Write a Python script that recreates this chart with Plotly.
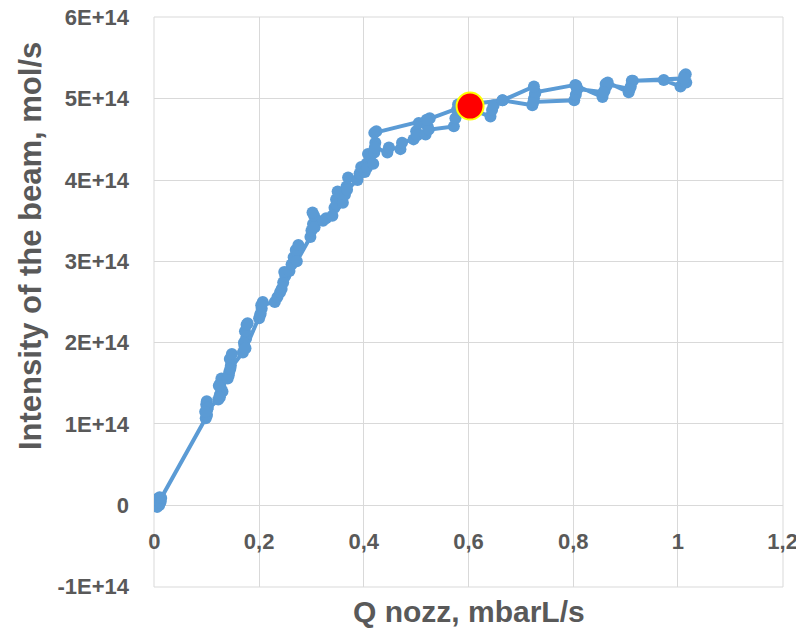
import plotly.graph_objects as go

# ---- data (intensity in units of 1E+14 mol/s) ----
q_nozz = [
    0.003, 0.006, 0.009, 0.012, 0.010, 0.005, 0.004, 0.011, 0.013,
    0.098, 0.100, 0.101, 0.099, 0.100, 0.102, 0.100, 0.097,
    0.122, 0.125, 0.127, 0.126, 0.128, 0.130, 0.125, 0.123,
    0.140, 0.143, 0.146, 0.144, 0.148, 0.142, 0.145,
    0.169, 0.172, 0.175, 0.173, 0.178, 0.171, 0.176, 0.174,
    0.200, 0.203, 0.205, 0.207, 0.202, 0.204,
    0.230, 0.235, 0.240,
    0.243, 0.246, 0.250, 0.248,
    0.258, 0.262, 0.266, 0.270, 0.275, 0.272,
    0.298, 0.300, 0.303, 0.305, 0.302, 0.306,
    0.322, 0.328,
    0.340, 0.344, 0.347, 0.350, 0.348,
    0.360, 0.364, 0.367, 0.370, 0.368,
    0.388, 0.392, 0.395,
    0.402, 0.405, 0.408, 0.406,
    0.418, 0.420, 0.422, 0.424, 0.421,
    0.445, 0.448,
    0.470, 0.473,
    0.495, 0.500, 0.505, 0.502,
    0.518, 0.522, 0.526, 0.524,
    0.572, 0.575, 0.578, 0.580,
    0.642, 0.645, 0.648,
    0.665,
    0.722, 0.725, 0.727, 0.724,
    0.802, 0.805, 0.808, 0.806,
    0.856, 0.860, 0.864, 0.866,
    0.906, 0.910, 0.914,
    0.973,
    1.005, 1.010, 1.012, 1.015, 1.016, 1.012,
    0.912, 0.908,
    0.862, 0.858,
    0.808, 0.804,
    0.728, 0.725,
    0.665, 0.600, 0.520, 0.420,
]
intensity = [
    0.02, 0.08, 0.00, 0.05, 0.10, -0.02, 0.06, 0.03, 0.09,
    1.07, 1.12, 1.18, 1.24, 1.28, 1.20, 1.10, 1.15,
    1.30, 1.36, 1.44, 1.50, 1.56, 1.40, 1.33, 1.47,
    1.56, 1.64, 1.72, 1.80, 1.86, 1.60, 1.68,
    1.88, 1.96, 2.05, 2.14, 2.24, 2.00, 2.22, 1.93,
    2.30, 2.36, 2.42, 2.50, 2.34, 2.46,
    2.50, 2.56, 2.62,
    2.66, 2.74, 2.82, 2.87,
    2.88, 2.96, 3.05, 3.14, 3.20, 3.00,
    3.30, 3.38, 3.46, 3.56, 3.60, 3.42,
    3.50, 3.53,
    3.56, 3.66, 3.76, 3.86, 3.70,
    3.72, 3.82, 3.92, 4.03, 3.88,
    4.00, 4.08, 4.16,
    4.10, 4.20, 4.32, 4.15,
    4.20, 4.34, 4.46, 4.60, 4.40,
    4.34, 4.40,
    4.38, 4.46,
    4.50, 4.60, 4.70, 4.55,
    4.56, 4.66, 4.76, 4.62,
    4.66, 4.76, 4.86, 4.93,
    4.78, 4.86, 4.92,
    4.98,
    4.92, 5.00, 5.06, 4.96,
    4.98, 5.05, 5.12, 5.16,
    5.02, 5.10, 5.16, 5.20,
    5.08, 5.15, 5.22,
    5.23,
    5.15, 5.22, 5.28, 5.30, 5.20, 5.25,
    5.22, 5.12,
    5.18, 5.08,
    5.12, 5.17,
    5.08, 5.15,
    4.98, 4.93, 4.74, 4.58,
]
highlight_q = [0.603]
highlight_intensity = [4.91]

y_tick_vals = [-1, 0, 1, 2, 3, 4, 5, 6]
y_tick_text = ["-1E+14", "0", "1E+14", "2E+14", "3E+14", "4E+14", "5E+14", "6E+14"]
x_tick_vals = [0, 0.2, 0.4, 0.6, 0.8, 1.0, 1.2]
x_tick_text = ["0", "0,2", "0,4", "0,6", "0,8", "1", "1,2"]

blue = "#5B9BD5"
grey = "#595959"
grid = "#D9D9D9"
font_family = "Liberation Sans, Arial, sans-serif"

# page body has an 8px margin, so the figure is sized to fit the 804x631 window
fig_w, fig_h = 796, 623
ml, mt = 146, 9
pw, ph = 629, 570

fig = go.Figure()
fig.add_trace(go.Scatter(
    x=q_nozz, y=intensity, mode="lines+markers",
    line=dict(color=blue, width=4),
    marker=dict(color=blue, size=12),
    showlegend=False, hoverinfo="skip",
))
fig.add_trace(go.Scatter(
    x=highlight_q, y=highlight_intensity, mode="markers",
    marker=dict(color="#FF0000", size=27, line=dict(color="#FFFF00", width=2)),
    showlegend=False, hoverinfo="skip",
))

fig.update_layout(
    width=fig_w, height=fig_h,
    margin=dict(l=ml, r=fig_w - ml - pw, t=mt, b=fig_h - mt - ph, autoexpand=False),
    paper_bgcolor="white", plot_bgcolor="white",
    font=dict(family=font_family, color=grey),
    xaxis=dict(
        range=[-0.0008, 1.2008], tickvals=x_tick_vals, ticktext=x_tick_text,
        showgrid=True, gridcolor=grid, gridwidth=1,
        zeroline=False, showline=False, ticks="",
        anchor="free", position=1/7, automargin=False,
        ticklabeloverflow="allow",
        tickfont=dict(size=22, color=grey, family=font_family, weight="bold"),
        ticklabelstandoff=20,
    ),
    yaxis=dict(
        range=[-1.005, 6.005], tickvals=y_tick_vals, ticktext=y_tick_text,
        showgrid=True, gridcolor=grid, gridwidth=1,
        zeroline=False, showline=False, ticks="", automargin=False,
        ticklabeloverflow="allow",
        tickfont=dict(size=22, color=grey, family=font_family, weight="bold"),
        ticklabelstandoff=24,
    ),
    shapes=[
        dict(type="rect", xref="paper", yref="paper", x0=0, x1=1, y0=0, y1=1,
             line=dict(color=grid, width=1), layer="below"),
    ],
    annotations=[
        dict(text="<b>Intensity of the beam, mol/s</b>", textangle=-90,
             xref="paper", yref="paper", x=(30 - 154) / pw, y=(587 - 246) / ph,
             xanchor="center", yanchor="middle", showarrow=False,
             font=dict(size=31, color=grey, family=font_family)),
        dict(text="<b>Q nozz, mbarL/s</b>",
             xref="paper", yref="paper", x=0.5, y=(587 - 611) / ph,
             xanchor="center", yanchor="middle", showarrow=False,
             font=dict(size=30, color=grey, family=font_family)),
    ],
)

fig.write_html("out.html")
